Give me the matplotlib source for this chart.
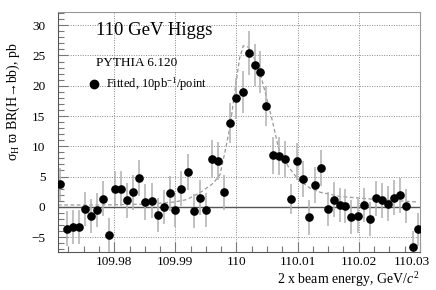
import numpy as np
import matplotlib.pyplot as plt
from matplotlib.ticker import MultipleLocator
from matplotlib.transforms import ScaledTranslation

# beam energy scan points (2 x beam energy, GeV/c^2)
energy = [109.9712, 109.9722, 109.9732, 109.9742, 109.9752, 109.9762, 109.9772, 109.9781,
          109.9791, 109.9801, 109.9811, 109.9821, 109.9831, 109.9841, 109.9851, 109.9861,
          109.9871, 109.9881, 109.9891, 109.9900, 109.9910, 109.9920, 109.9930, 109.9940,
          109.9950, 109.9960, 109.9970, 109.9980, 109.9990, 110.0000, 110.0010, 110.0020,
          110.0030, 110.0039, 110.0049, 110.0059, 110.0069, 110.0079, 110.0089, 110.0099,
          110.0109, 110.0119, 110.0129, 110.0139, 110.0149, 110.0159, 110.0169, 110.0178,
          110.0188, 110.0198, 110.0208, 110.0218, 110.0228, 110.0238, 110.0248, 110.0258,
          110.0268, 110.0278, 110.0288, 110.0297]
xsec = [3.7, -3.6, -3.3, -3.4, -0.3, -1.5, -0.5, 1.3, -4.7, 3.0, 3.0, 1.1, 2.4, 4.8, 0.8, 1.0,
        -1.4, -0.1, 2.2, -0.5, 3.0, 5.7, -0.7, 1.5, -0.5, 7.9, 7.6, 2.4, 13.9, 17.9, 19.0, 25.4,
        23.4, 22.3, 16.6, 8.5, 8.4, 7.9, 1.3, 7.5, 4.6, -1.7, 3.6, 6.4, -0.4, 1.2, 0.3, 0.2,
        -1.7, -1.5, 0.3, -2.0, 1.4, 1.1, 0.5, 1.5, 1.9, 0.1, -6.7, -3.7]
xsec_err = [2.7, 2.9, 2.8, 2.8, 2.8, 2.8, 2.8, 2.9, 2.8, 2.9, 2.9, 2.9, 2.9, 3.0, 2.9, 2.9,
            2.8, 2.8, 2.9, 2.8, 2.9, 3.0, 2.8, 2.9, 2.8, 3.1, 3.1, 2.9, 3.3, 3.4, 3.5, 3.6,
            3.5, 3.5, 3.3, 3.1, 3.1, 3.0, 2.5, 3.0, 2.9, 2.9, 2.9, 3.0, 2.8, 2.9, 2.8, 2.8,
            2.8, 2.8, 2.8, 2.8, 2.9, 2.9, 2.9, 2.9, 2.9, 2.8, 2.7, 2.7]

# fitted line shape
fit_x = [109.9708, 109.9777, 109.9858, 109.9899, 109.9919, 109.9943, 109.9962, 109.9973,
         109.9981, 109.9989, 109.9998, 110.0005, 110.0011, 110.0019, 110.0028, 110.0039,
         110.0050, 110.0058, 110.0069, 110.0085, 110.0101, 110.0120, 110.0137, 110.0170,
         110.0230, 110.0295]
fit_y = [0.3, 0.3, 0.45, 0.8, 1.2, 2.5, 3.9, 5.3, 9.0, 13.0, 19.5, 24.5, 26.6, 26.4, 24.8,
         22.0, 17.7, 14.5, 9.6, 6.6, 4.5, 3.1, 2.4, 1.7, 1.2, 0.8]

xtick_pos = [109.98, 109.99, 110.0, 110.01, 110.02, 110.03]
xtick_lab = ['109.98', '109.99', '110', '110.01', '110.02', '110.03']

plt.rcParams['font.family'] = ['Liberation Serif', 'DejaVu Serif']
plt.rcParams['mathtext.fontset'] = 'custom'
plt.rcParams['mathtext.rm'] = 'Liberation Serif'
plt.rcParams['mathtext.it'] = 'Liberation Serif:italic'

fig = plt.figure(figsize=(4.36, 2.90), dpi=100)
ax = fig.add_axes([0.133, 0.131, 0.830, 0.828])

ax.grid(True, which='major', color='#888888', linestyle=(0, (1, 1.5)), linewidth=0.7)
ax.axhline(0, color='#555555', linewidth=1.0, zorder=2)
ax.plot(fit_x, fit_y, color='#999999', linestyle=(0, (3, 2)), linewidth=0.9, zorder=2)
ax.errorbar(energy, xsec, yerr=xsec_err, fmt='none', ecolor='#b0b0b0', elinewidth=1.1, zorder=3)
ax.plot(energy, xsec, 'o', color='black', markersize=5.2, zorder=4)

ax.set_xlim(109.9708, 110.0300)
ax.set_ylim(-7.47, 32.2)
ax.xaxis.set_minor_locator(MultipleLocator(0.0025))
ax.yaxis.set_major_locator(MultipleLocator(5))
ax.yaxis.set_minor_locator(MultipleLocator(1))
ax.set_xticks(xtick_pos)
ax.set_xticklabels(xtick_lab)
ax.tick_params(which='both', direction='in', color='#777777', labelsize=9.5)
ax.tick_params(which='major', length=7, width=0.8)
ax.tick_params(which='minor', length=4, width=0.8)
ax.tick_params(axis='y', pad=9)
ax.tick_params(axis='x', pad=3)
for s in ['left', 'bottom']:
    ax.spines[s].set_color('#555555')
for s in ['top', 'right']:
    ax.spines[s].set_color('#999999')

# last label is pulled in a bit so it fits in the frame, as in the original
last = ax.get_xticklabels()[-1]
last.set_transform(last.get_transform() + ScaledTranslation(-6 / 72, 0, fig.dpi_scale_trans))

ax.text(0.104, 0.921, '110 GeV Higgs', transform=ax.transAxes, fontsize=13.5, va='center')
ax.text(0.104, 0.7875, 'PYTHIA 6.120', transform=ax.transAxes, fontsize=9.5, va='center')
ax.plot([0.100], [0.699], 'o', color='black', markersize=6, transform=ax.transAxes)
ax.text(0.133, 0.699, 'Fitted, 10pb$^{-1}$/point', transform=ax.transAxes, fontsize=9,
        va='center')

ax.set_ylabel('σ$_{\\rm H}$ ϖ BR(H→bb), pb', fontsize=10)
ax.yaxis.set_label_coords(-0.0995, 0.625)
fig.text(0.962, 0.022, '2 x beam energy, GeV/$c$$^{\\,2}$', ha='right', va='baseline',
         fontsize=10)

fig.savefig('out.png', dpi=100)
